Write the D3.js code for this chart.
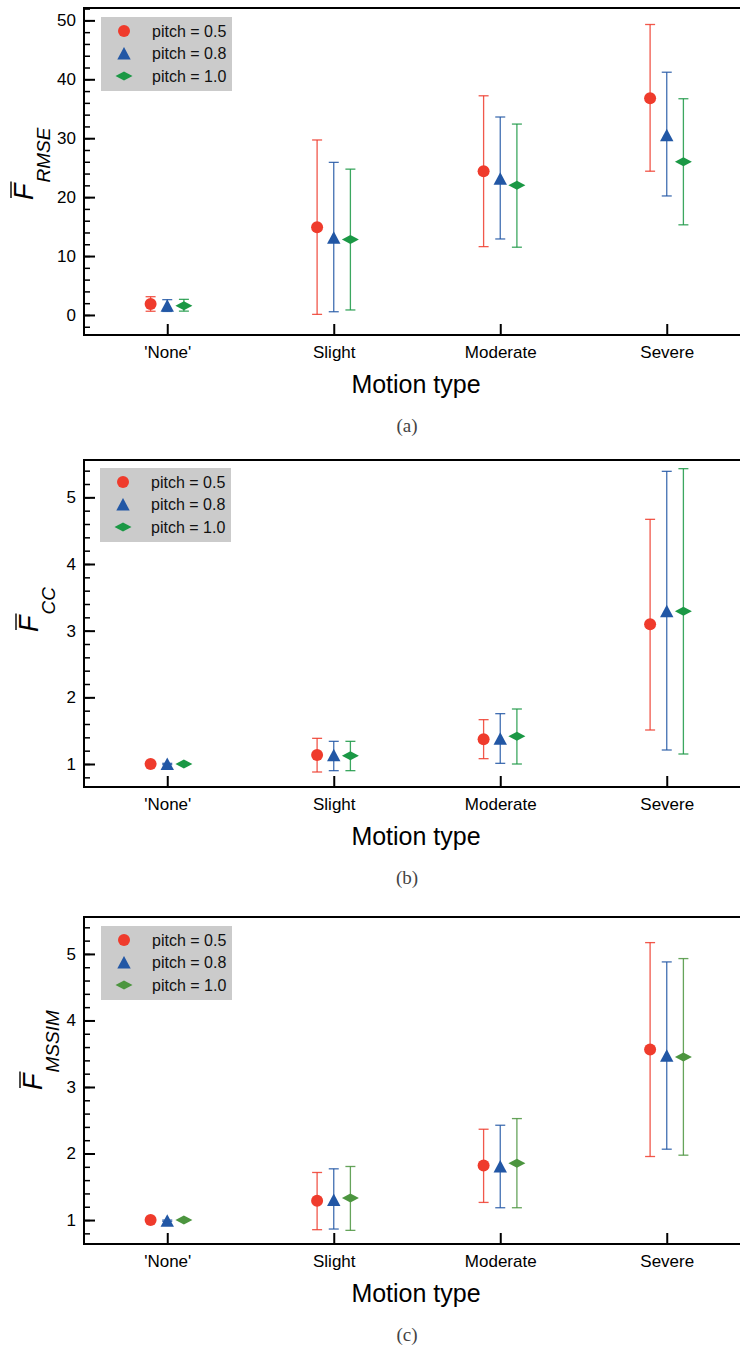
<!DOCTYPE html>
<html>
  <head>
  <title>Motion type error bars</title>
  <style>
    body, html { margin: 0; padding: 0; background: #fff; }
    svg { display: block; }
  </style>
  </head>
  <body>

  <svg id="svg" width="740" height="1349"></svg>

  <script src="https://d3js.org/d3.v7.min.js"></script>
  <script>
    const categories = ["'None'", 'Slight', 'Moderate', 'Severe']
    const pitchLabels = ['pitch = 0.5', 'pitch = 0.8', 'pitch = 1.0']

    // (a) F_RMSE : rows = pitch 0.5, 0.8, 1.0
    const rmseMean = [[1.87, 14.9, 24.4, 36.8], [1.55, 13.1, 23.1, 30.5], [1.55, 12.8, 22.0, 26.0]]
    const rmseLow  = [[0.63, 0.1, 11.6, 24.4], [0.6, 0.55, 12.9, 20.2], [0.65, 0.85, 11.5, 15.3]]
    const rmseHigh = [[3.1, 29.7, 37.2, 49.3], [2.6, 25.9, 33.6, 41.2], [2.65, 24.75, 32.4, 36.7]]

    // (b) F_CC
    const ccMean = [[1.0, 1.135, 1.37, 3.095], [1.0, 1.13, 1.38, 3.29], [1.0, 1.125, 1.415, 3.29]]
    const ccLow  = [[0.99, 0.88, 1.08, 1.51], [0.99, 0.90, 1.01, 1.21], [0.99, 0.90, 1.0, 1.15]]
    const ccHigh = [[1.01, 1.385, 1.665, 4.67], [1.01, 1.34, 1.755, 5.39], [1.01, 1.34, 1.825, 5.43]]

    // (c) F_MSSIM
    const mssimMean = [[1.0, 1.29, 1.82, 3.565], [0.99, 1.30, 1.805, 3.47], [1.0, 1.33, 1.855, 3.45]]
    const mssimLow  = [[0.99, 0.855, 1.265, 1.955], [0.98, 0.865, 1.185, 2.065], [0.99, 0.845, 1.185, 1.975]]
    const mssimHigh = [[1.01, 1.715, 2.365, 5.17], [1.0, 1.77, 2.425, 4.88], [1.01, 1.805, 2.525, 4.93]]

    const rmseTicks = [0, 10, 20, 30, 40, 50]
    const ratioTicks = [1, 2, 3, 4, 5]

    const svg = d3.select('#svg')
    const font = '"Liberation Sans", Arial, Helvetica, sans-serif'
    const left = 84, right = 750, plotH = 327
    const offsets = [-0.1, 0, 0.1]
    const shapes = [d3.symbolCircle, d3.symbolTriangle, 'diamond']

    const xscale = d3.scaleLinear().domain([-0.5, 3.5]).range([left, right])

    function marker(g, shape, color) {
      if (shape === 'diamond') {
        g.append('path').attr('d', 'M-8.5,0L0,-4.5L8.5,0L0,4.5Z').attr('fill', color)
      } else if (shape === d3.symbolTriangle) {
        g.append('path').attr('d', 'M0,-6.5L6.7,6L-6.7,6Z').attr('fill', color)
      } else {
        g.append('circle').attr('r', 6).attr('fill', color)
      }
    }

    function drawPanel(p) {
      const top = p.top, bottom = top + plotH
      const yscale = d3.scaleLinear().domain(p.domain).range([bottom, top])
      const g = svg.append('g')

      // minor ticks
      const minor = d3.range(p.minorStart, p.domain[1], p.minorStep)
      g.append('g')
        .attr('transform', `translate(${left},0)`)
        .call(d3.axisLeft(yscale).tickValues(minor).tickFormat('').tickSizeInner(-6).tickSizeOuter(0))
        .call(a => a.select('.domain').remove())
        .call(a => a.selectAll('line').attr('stroke-width', 1.5))

      // major ticks
      g.append('g')
        .attr('transform', `translate(${left},0)`)
        .call(d3.axisLeft(yscale).tickValues(p.ticks).tickFormat(d3.format('d')).tickSizeInner(-11).tickSizeOuter(0).tickPadding(8))
        .call(a => a.select('.domain').remove())
        .call(a => a.selectAll('line').attr('stroke-width', 2))
        .call(a => a.selectAll('text').attr('font-family', font).attr('font-size', 17).attr('fill', '#000'))

      g.append('g')
        .attr('transform', `translate(0,${bottom})`)
        .call(d3.axisBottom(xscale).tickValues([0, 1, 2, 3]).tickFormat(i => categories[i]).tickSizeInner(-11).tickSizeOuter(0).tickPadding(11))
        .call(a => a.select('.domain').remove())
        .call(a => a.selectAll('line').attr('stroke-width', 2))
        .call(a => a.selectAll('text').attr('font-family', font).attr('font-size', 17).attr('fill', '#000'))

      // frame
      g.append('rect')
        .attr('x', left).attr('y', top)
        .attr('width', right - left).attr('height', plotH)
        .attr('fill', 'none').attr('stroke', '#000').attr('stroke-width', 2)

      // error bars + markers
      p.mean.forEach((series, s) => {
        const color = p.colors[s]
        const sg = g.append('g')
        series.forEach((m, i) => {
          const cx = xscale(i + offsets[s])
          const y0 = yscale(p.low[s][i]), y1 = yscale(p.high[s][i])
          sg.append('line').attr('x1', cx).attr('x2', cx).attr('y1', y0).attr('y2', y1)
            .attr('stroke', color).attr('stroke-width', 1.3).attr('opacity', 0.85)
          ;[y0, y1].forEach(yy => {
            sg.append('line').attr('x1', cx - 5).attr('x2', cx + 5).attr('y1', yy).attr('y2', yy)
              .attr('stroke', color).attr('stroke-width', 1.3).attr('opacity', 0.85)
          })
        })
        series.forEach((m, i) => {
          const mg = sg.append('g').attr('transform', `translate(${xscale(i + offsets[s])},${yscale(m)})`)
          marker(mg, shapes[s], color)
        })
      })

      // legend
      const lg = g.append('g').attr('transform', `translate(${left + p.legendDx},${top + p.legendDy})`)
      lg.append('rect').attr('width', 131).attr('height', 74).attr('fill', '#cbcbcb')
      pitchLabels.forEach((lab, s) => {
        const row = lg.append('g').attr('transform', `translate(0,${14 + s * 22.5})`)
        marker(row.append('g').attr('transform', 'translate(23,0)'), shapes[s], p.colors[s])
        row.append('text').attr('x', 51).attr('y', 0).attr('dy', '0.35em')
          .attr('font-family', font).attr('font-size', 16).attr('fill', '#111').text(lab)
      })

      // y label: overlined italic F with italic subscript
      const yl = svg.append('g').attr('transform', `translate(${p.labelX},${top + p.labelStart}) rotate(-90)`)
      const fText = yl.append('text').attr('x', 0).attr('y', 0)
        .attr('font-family', font).attr('font-size', 27).attr('font-style', 'italic').text('F')
      const wF = fText.node().getComputedTextLength()
      yl.append('line').attr('x1', 2).attr('x2', wF + 2).attr('y1', -22).attr('y2', -22)
        .attr('stroke', '#000').attr('stroke-width', 1.4)
      yl.append('text').attr('x', wF + 1).attr('y', 17)
        .attr('font-family', font).attr('font-size', 19).attr('font-style', 'italic').text(p.sub)

      svg.append('text').attr('x', 416).attr('y', bottom + 58).attr('text-anchor', 'middle')
        .attr('font-family', font).attr('font-size', 25).attr('fill', '#000').text('Motion type')

      svg.append('text').attr('x', 407).attr('y', bottom + 97).attr('text-anchor', 'middle')
        .attr('font-family', '"Liberation Serif", "DejaVu Serif", serif').attr('font-size', 19).attr('fill', '#444').text(p.caption)
    }

    const colorsAB = ['#ef3b2c', '#2257a5', '#1b9845']
    const colorsC = ['#ef3b2c', '#2257a5', '#4c953f']

    drawPanel({ top: 8, domain: [-3.4, 52.1], ticks: rmseTicks, minorStart: -2, minorStep: 2,
      mean: rmseMean, low: rmseLow, high: rmseHigh, colors: colorsAB, sub: 'RMSE', caption: '(a)',
      legendDx: 17, legendDy: 9, labelX: 33, labelStart: 192 })
    drawPanel({ top: 460, domain: [0.655, 5.56], ticks: ratioTicks, minorStart: 0.8, minorStep: 0.2,
      mean: ccMean, low: ccLow, high: ccHigh, colors: colorsAB, sub: 'CC', caption: '(b)',
      legendDx: 16, legendDy: 8, labelX: 38, labelStart: 172 })
    drawPanel({ top: 917, domain: [0.64, 5.555], ticks: ratioTicks, minorStart: 0.8, minorStep: 0.2,
      mean: mssimMean, low: mssimLow, high: mssimHigh, colors: colorsC, sub: 'MSSIM', caption: '(c)',
      legendDx: 17, legendDy: 9, labelX: 42, labelStart: 173 })
  </script>
  </body>
</html>
